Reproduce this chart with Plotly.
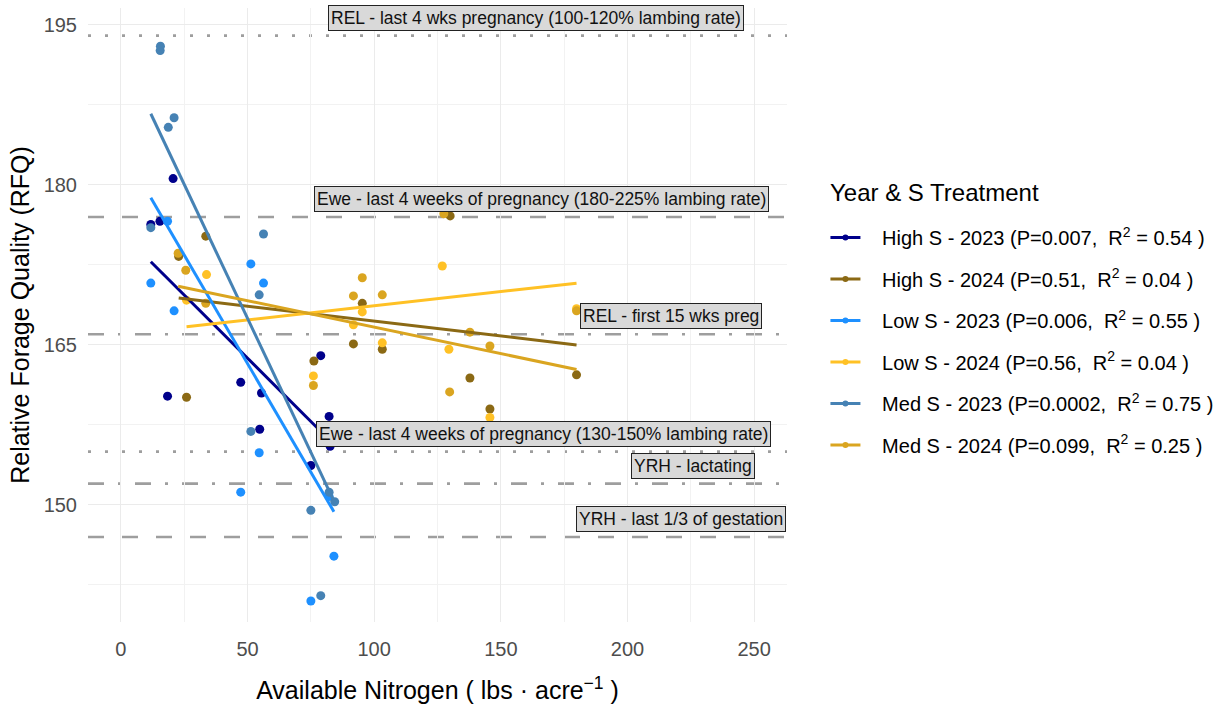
import plotly.graph_objects as go

# ---------------- data ----------------
groups = ["High S - 2023", "High S - 2024", "Low S - 2023",
          "Low S - 2024", "Med S - 2023", "Med S - 2024"]
colors = ["#00008B", "#8B6914", "#1E90FF", "#FFC125", "#4682B4", "#DAA520"]
p_values = ["0.007", "0.51", "0.006", "0.56", "0.0002", "0.099"]
r2_values = ["0.54", "0.04", "0.55", "0.04", "0.75", "0.25"]

# available nitrogen (lbs/acre) and RFQ per group
high23_n = [11.8, 15.4, 18.4, 20.6, 47.3, 54.8, 55.5, 75.0, 78.9, 82.2, 82.6]
high23_rfq = [176.3, 176.6, 160.2, 180.6, 161.5, 157.1, 160.5, 153.7, 164.0, 158.3, 155.5]

high24_n = [22.8, 25.9, 33.5, 76.2, 91.8, 95.3, 103.2, 130.0, 137.8, 145.7, 179.9]
high24_rfq = [173.3, 160.1, 175.2, 163.5, 165.1, 168.9, 164.6, 177.1, 161.9, 159.0, 162.2]

low23_n = [11.8, 18.4, 21.0, 47.3, 51.3, 54.6, 56.3, 75.0, 82.2, 84.1]
low23_rfq = [170.8, 176.6, 168.2, 151.2, 172.6, 154.9, 170.8, 141.0, 150.8, 145.2]

low24_n = [25.9, 33.8, 76.0, 91.8, 95.3, 103.2, 126.9, 129.5, 145.7, 179.9]
low24_rfq = [169.2, 171.6, 162.1, 166.9, 168.1, 165.2, 172.4, 164.6, 158.2, 168.4]

med23_n = [11.8, 15.5, 15.6, 18.7, 21.0, 51.3, 54.6, 56.3, 75.0, 78.9, 82.2, 84.4]
med23_rfq = [176.0, 192.6, 193.0, 185.4, 186.3, 156.9, 169.7, 175.4, 149.5, 141.5, 151.2, 150.3]

med24_n = [22.6, 25.6, 33.5, 76.0, 91.8, 95.3, 103.2, 127.5, 129.8, 137.8, 145.7, 179.9]
med24_rfq = [173.6, 172.0, 168.9, 161.2, 169.6, 171.3, 169.7, 177.3, 160.6, 166.2, 164.9, 168.2]

group_n = [high23_n, high24_n, low23_n, low24_n, med23_n, med24_n]
group_rfq = [high23_rfq, high24_rfq, low23_rfq, low24_rfq, med23_rfq, med24_rfq]

# linear fits (RFQ = intercept + slope * N)
fit_intercept = [175.6, 170.04, 183.6, 166.01, 192.6, 171.63]
fit_slope = [-0.237, -0.028, -0.407, 0.0266, -0.502, -0.0496]

# livestock requirement reference levels
ref_levels = [194, 177, 166, 155, 152, 147]
ref_labels = [
    "REL - last 4 wks pregnancy (100-120% lambing rate)",
    "Ewe - last 4 weeks of pregnancy (180-225% lambing rate)",
    "REL - first 15 wks preg",
    "Ewe - last 4 weeks of pregnancy (130-150% lambing rate)",
    "YRH - lactating",
    "YRH - last 1/3 of gestation",
]
ref_label_n = [164, 166, 217, 167, 226, 221]

x_ticks = [0, 50, 100, 150, 200, 250]
y_ticks = [150, 165, 180, 195]

# ---------------- styling ----------------
FONT = "Liberation Sans, Arial, sans-serif"
ref_dash = ["3px,14px", "16px,18px", "16px,14px,3px,14px",
            "3px,14px", "16px,14px,3px,14px", "16px,18px"]

fig = go.Figure()

# points
for i, g in enumerate(groups):
    fig.add_trace(go.Scatter(
        x=group_n[i], y=group_rfq[i], mode="markers",
        marker=dict(color=colors[i], size=9, line=dict(width=0)),
        showlegend=False, hoverinfo="skip", legendgroup=g,
    ))

# regression lines over each group's N range
for i, g in enumerate(groups):
    xs = [min(group_n[i]), max(group_n[i])]
    ys = [fit_intercept[i] + fit_slope[i] * x for x in xs]
    fig.add_trace(go.Scatter(
        x=xs, y=ys, mode="lines",
        line=dict(color=colors[i], width=3),
        showlegend=False, hoverinfo="skip", legendgroup=g,
    ))

# legend entries
for i, g in enumerate(groups):
    name = f"&nbsp;&nbsp;&nbsp;{g} (P={p_values[i]},&nbsp; R<sup>2</sup> = {r2_values[i]} )"
    fig.add_trace(go.Scatter(
        x=[None], y=[None], mode="lines+markers", name=name,
        line=dict(color=colors[i], width=3),
        marker=dict(color=colors[i], size=6),
        legendgroup=g,
    ))

# reference lines and labels
for lvl, lab, dash, lx in zip(ref_levels, ref_labels, ref_dash, ref_label_n):
    fig.add_shape(type="line", xref="paper", x0=0, x1=1, yref="y", y0=lvl, y1=lvl,
                  line=dict(color="#9E9E9E", width=2.6, dash=dash), layer="between")
    fig.add_annotation(x=lx, y=lvl, text=lab, showarrow=False,
                       yanchor="bottom", yshift=5,
                       font=dict(family=FONT, size=17.5, color="#111111"),
                       bgcolor="#D9D9D9", bordercolor="#222222", borderwidth=1, borderpad=2)

# legend heading
fig.add_annotation(xref="paper", yref="paper", x=1.058, y=0.7003,
                   xanchor="left", yanchor="middle", showarrow=False,
                   text="Year & S Treatment", font=dict(family=FONT, size=24, color="black"))

fig.update_layout(
    width=1230, height=709,
    margin=dict(l=88, r=443, t=8, b=87),
    paper_bgcolor="white", plot_bgcolor="white",
    font=dict(family=FONT, color="black"),
    showlegend=True,
    legend=dict(
        font=dict(size=20, color="black"),
        x=1.055, xanchor="left", y=0.658, yanchor="top",
        tracegroupgap=12.5, itemwidth=30, bgcolor="rgba(0,0,0,0)",
    ),
)

fig.update_xaxes(
    range=[-13, 263], tickvals=x_ticks, showline=False, zeroline=False,
    showgrid=True, gridcolor="#EBEBEB", gridwidth=1.2,
    minor=dict(dtick=25, tick0=0, showgrid=True, gridcolor="#F2F2F2", gridwidth=1),
    tickfont=dict(size=20, color="#4D4D4D"), ticks="", ticklabelstandoff=13,
    title=dict(text="Available Nitrogen ( lbs · acre<sup>−1</sup> )",
               font=dict(size=25, color="black"), standoff=22),
)
fig.update_yaxes(
    range=[139.03, 196.59], tickvals=y_ticks, showline=False, zeroline=False,
    showgrid=True, gridcolor="#EBEBEB", gridwidth=1.2,
    minor=dict(dtick=7.5, tick0=150, showgrid=True, gridcolor="#F2F2F2", gridwidth=1),
    tickfont=dict(size=20, color="#4D4D4D"), ticks="", ticklabelstandoff=10,
    title=dict(text="Relative Forage Quality (RFQ)", font=dict(size=25, color="black"), standoff=6),
)

fig.write_html("out.html")
